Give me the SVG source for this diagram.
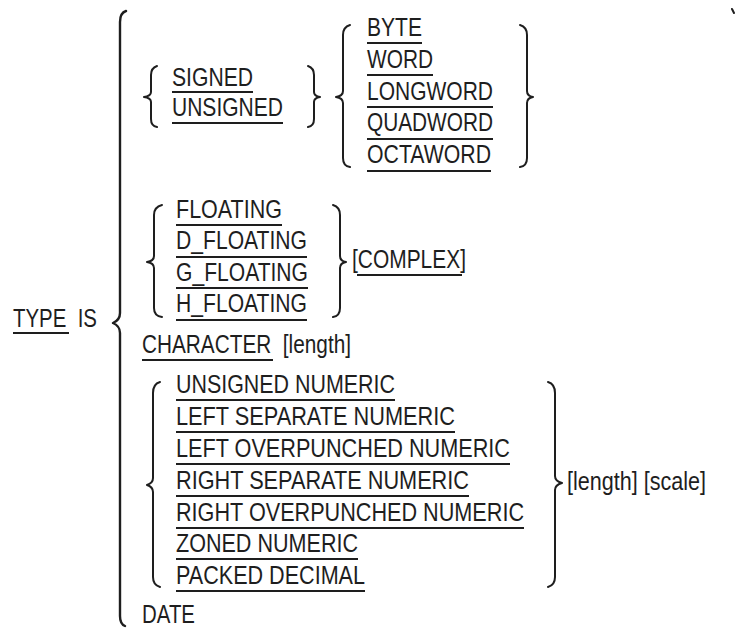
<svg xmlns="http://www.w3.org/2000/svg" width="735" height="628" viewBox="0 0 735 628">
<style>
text{font-family:"Liberation Sans",Arial,sans-serif;font-size:26px;fill:#1e1e1e;}
.ul{stroke:#1e1e1e;stroke-width:2;fill:none;}
.br{stroke:#1e1e1e;stroke-width:2;fill:none;stroke-linecap:round;stroke-linejoin:round;}
.bb{stroke:#1e1e1e;stroke-width:2.4;fill:none;stroke-linecap:round;stroke-linejoin:round;}
</style>
<rect width="735" height="628" fill="#fff"/>
<g id="braces">
<path class="bb" d="M126,11 Q120,13 120,22 L120,313 Q120,320 113,323 Q120,326 120,333 L120,616 Q120,624 125,626"/>
<path class="br" d="M157,66 Q151,68 151,75 L151,92 Q151,96 144,97 Q151,98 151,102 L151,119 Q151,126 157,127"/>
<path class="br" d="M308,66 Q314,68 314,75 L314,92 Q314,96 320,97 Q314,98 314,102 L314,119 Q314,126 308,127"/>
<path class="br" d="M350,25 Q343,27 343,35 L343,91 Q343,96 336,97 Q343,98 343,103 L343,158 Q343,166 350,167"/>
<path class="br" d="M520,25 Q527,27 527,35 L527,91 Q527,96 533,97 Q527,98 527,103 L527,158 Q527,166 520,167"/>
<path class="br" d="M162,205 Q154,207 154,215 L154,256 Q154,261 147,262 Q154,263 154,268 L154,308 Q154,316 162,317"/>
<path class="br" d="M333,205 Q340,207 340,215 L340,256 Q340,261 346,262 Q340,263 340,268 L340,308 Q340,316 333,317"/>
<path class="br" d="M160,382 Q153,384 153,393 L153,478 Q153,483 147,485 Q153,487 153,492 L153,577 Q153,585 160,587"/>
<path class="br" d="M548,382 Q555,384 555,393 L555,476 Q555,481 562,483 Q555,485 555,490 L555,577 Q555,585 548,587"/>
<path class="br" d="M732,9 L734,13"/>
</g>
<g id="type-is">
<text x="13" y="327" textLength="84" lengthAdjust="spacingAndGlyphs">TYPE&#160;&#160;IS</text>
<line class="ul" x1="13" y1="333" x2="69" y2="333"/>
</g>
<g id="signed">
<text x="172" y="86" textLength="81" lengthAdjust="spacingAndGlyphs">SIGNED</text>
<line class="ul" x1="172" y1="92" x2="253" y2="92"/>
</g>
<g id="unsigned">
<text x="172" y="116" textLength="111" lengthAdjust="spacingAndGlyphs">UNSIGNED</text>
<line class="ul" x1="172" y1="123" x2="283" y2="123"/>
</g>
<g id="byte">
<text x="367" y="36" textLength="55" lengthAdjust="spacingAndGlyphs">BYTE</text>
<line class="ul" x1="367" y1="43" x2="422" y2="43"/>
</g>
<g id="word">
<text x="367" y="68" textLength="66" lengthAdjust="spacingAndGlyphs">WORD</text>
<line class="ul" x1="367" y1="75" x2="433" y2="75"/>
</g>
<g id="longword">
<text x="367" y="100" textLength="126" lengthAdjust="spacingAndGlyphs">LONGWORD</text>
<line class="ul" x1="367" y1="107" x2="493" y2="107"/>
</g>
<g id="quadword">
<text x="367" y="131" textLength="126" lengthAdjust="spacingAndGlyphs">QUADWORD</text>
<line class="ul" x1="367" y1="139" x2="493" y2="139"/>
</g>
<g id="octaword">
<text x="367" y="163" textLength="124" lengthAdjust="spacingAndGlyphs">OCTAWORD</text>
<line class="ul" x1="367" y1="171" x2="491" y2="171"/>
</g>
<g id="floating">
<text x="176" y="218" textLength="106" lengthAdjust="spacingAndGlyphs">FLOATING</text>
<line class="ul" x1="176" y1="225" x2="282" y2="225"/>
</g>
<g id="d-floating">
<text x="176" y="249" textLength="131" lengthAdjust="spacingAndGlyphs">D_FLOATING</text>
<line class="ul" x1="176" y1="257" x2="307" y2="257"/>
</g>
<g id="g-floating">
<text x="176" y="281" textLength="132" lengthAdjust="spacingAndGlyphs">G_FLOATING</text>
<line class="ul" x1="176" y1="288" x2="308" y2="288"/>
</g>
<g id="h-floating">
<text x="176" y="312" textLength="131" lengthAdjust="spacingAndGlyphs">H_FLOATING</text>
<line class="ul" x1="176" y1="320" x2="307" y2="320"/>
</g>
<g id="complex">
<text x="352" y="268" textLength="114" lengthAdjust="spacingAndGlyphs">[COMPLEX]</text>
<line class="ul" x1="357" y1="275" x2="462" y2="275"/>
</g>
<g id="character">
<text x="142" y="353" textLength="209" lengthAdjust="spacingAndGlyphs">CHARACTER&#160;&#160;[length]</text>
<line class="ul" x1="142" y1="360" x2="273" y2="360"/>
</g>
<g id="unsigned-numeric">
<text x="176" y="393" textLength="219" lengthAdjust="spacingAndGlyphs">UNSIGNED NUMERIC</text>
<line class="ul" x1="176" y1="400" x2="395" y2="400"/>
</g>
<g id="left-separate-numeric">
<text x="176" y="425" textLength="279" lengthAdjust="spacingAndGlyphs">LEFT SEPARATE NUMERIC</text>
<line class="ul" x1="176" y1="432" x2="455" y2="432"/>
</g>
<g id="left-overpunched-numeric">
<text x="176" y="457" textLength="334" lengthAdjust="spacingAndGlyphs">LEFT OVERPUNCHED NUMERIC</text>
<line class="ul" x1="176" y1="464" x2="510" y2="464"/>
</g>
<g id="right-separate-numeric">
<text x="176" y="489" textLength="293" lengthAdjust="spacingAndGlyphs">RIGHT SEPARATE NUMERIC</text>
<line class="ul" x1="176" y1="496" x2="469" y2="496"/>
</g>
<g id="right-overpunched-numeric">
<text x="176" y="521" textLength="348" lengthAdjust="spacingAndGlyphs">RIGHT OVERPUNCHED NUMERIC</text>
<line class="ul" x1="176" y1="528" x2="524" y2="528"/>
</g>
<g id="zoned-numeric">
<text x="176" y="552" textLength="182" lengthAdjust="spacingAndGlyphs">ZONED NUMERIC</text>
<line class="ul" x1="176" y1="559" x2="358" y2="559"/>
</g>
<g id="packed-decimal">
<text x="176" y="584" textLength="189" lengthAdjust="spacingAndGlyphs">PACKED DECIMAL</text>
<line class="ul" x1="176" y1="591" x2="365" y2="591"/>
</g>
<g id="length-scale">
<text x="567" y="490" textLength="139" lengthAdjust="spacingAndGlyphs">[length] [scale]</text>
</g>
<g id="date">
<text x="142" y="623" textLength="53" lengthAdjust="spacingAndGlyphs">DATE</text>
</g>
</svg>
